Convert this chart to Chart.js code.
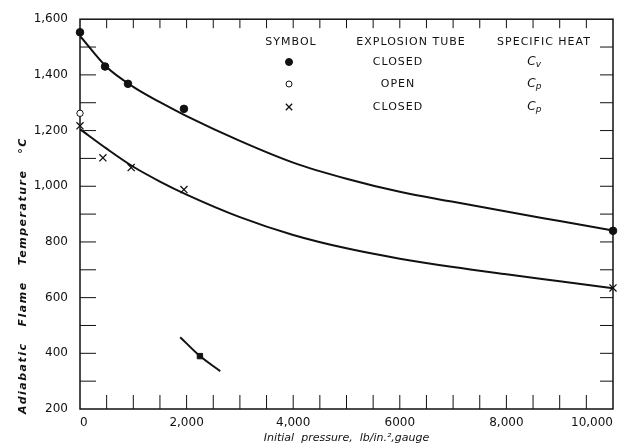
<!DOCTYPE html>
<html>
<head>
<meta charset="utf-8">
<script src="https://cdn.jsdelivr.net/npm/chart.js@4.4.0/dist/chart.umd.min.js"></script>
<style>
  html, body { margin: 0; padding: 0; background: #fff; }
</style>
</head>
<body>
<canvas id="chart-flame" width="625" height="447"></canvas>
<script>
// smooth curves
const curveX = [0, 500, 1000, 1500, 2000, 3000, 4000, 5000, 6000, 7000, 8000, 9000, 10000];
const upperCurve = [1540, 1428, 1357, 1302, 1252, 1163, 1085, 1027, 980, 944, 909, 875, 841];
const lowerCurve = [1205, 1135, 1070, 1017, 970, 889, 825, 777, 740, 710, 684, 659, 634];

// measured points
const closedCvX = [0, 470, 900, 1950, 10000];
const closedCvY = [1553, 1430, 1368, 1278, 840];
const openCpX = [0];
const openCpY = [1262];
const closedCpX = [0, 430, 960, 1950, 10000];
const closedCpY = [1217, 1102, 1067, 988, 635];

// lone square point with its short curve
const squareX = [2250];
const squareY = [390];
const squareLineX = [1880, 2250, 2630];
const squareLineY = [458, 390, 336];

const xTickLabels = ["0", "2,000", "4,000", "6000", "8,000", "10,000"];
const yTickLabels = ["200", "400", "600", "800", "1,000", "1,200", "1,400", "1,600"];

const legendHead = ["SYMBOL", "EXPLOSION TUBE", "SPECIFIC HEAT"];
const legendTube = ["CLOSED", "OPEN", "CLOSED"];
const legendHeatSub = ["v", "p", "p"];

const ink = "#111";
const family = '"DejaVu Sans", sans-serif';

function pts(xs, ys) {
  return xs.map(function (x, i) {
    return { x: x, y: ys[i] };
  });
}

// frame with inward ticks on all four sides
const frame = {
  id: "frame",
  beforeDatasetsDraw(chart) {
    const ctx = chart.ctx;
    const a = chart.chartArea;
    const x = chart.scales.x;
    const y = chart.scales.y;
    ctx.save();
    ctx.strokeStyle = ink;
    ctx.lineWidth = 1.5;
    ctx.strokeRect(a.left, a.top, a.right - a.left, a.bottom - a.top);
    ctx.lineWidth = 1;
    ctx.beginPath();
    for (let v = 500; v < 10000; v += 500) {
      const px = x.getPixelForValue(v);
      ctx.moveTo(px, a.bottom);
      ctx.lineTo(px, a.bottom - 14);
      ctx.moveTo(px, a.top);
      ctx.lineTo(px, a.top + 9);
    }
    for (let v = 300; v < 1600; v += 100) {
      const py = y.getPixelForValue(v);
      ctx.moveTo(a.left, py);
      ctx.lineTo(a.left + 16, py);
      ctx.moveTo(a.right, py);
      ctx.lineTo(a.right - 13, py);
    }
    ctx.stroke();
    ctx.restore();
  },
};

// y title (letter spaced) and the symbol table
const extras = {
  id: "extras",
  afterDraw(chart) {
    const ctx = chart.ctx;
    ctx.save();
    ctx.fillStyle = ink;
    ctx.strokeStyle = ink;

    ctx.save();
    ctx.translate(23, 414);
    ctx.rotate(-Math.PI / 2);
    ctx.font = "italic bold 11px " + family;
    ctx.letterSpacing = "1.5px";
    ctx.textAlign = "left";
    ctx.textBaseline = "middle";
    ctx.fillText("Adiabatic   Flame   Temperature   °C", 0, 0);
    ctx.restore();

    ctx.font = "11px " + family;
    ctx.letterSpacing = "1px";
    ctx.textAlign = "center";
    ctx.textBaseline = "middle";
    const heads = [291, 411, 544];
    heads.forEach(function (cx, i) {
      ctx.fillText(legendHead[i], cx, 42);
    });

    const rows = [62, 84, 107];
    const marks = [
      { pointStyle: "circle", radius: 3.5, borderWidth: 1, fill: ink },
      { pointStyle: "circle", radius: 3, borderWidth: 1, fill: "#fff" },
      { pointStyle: "crossRot", radius: 4.5, borderWidth: 1.3, fill: ink },
    ];
    rows.forEach(function (ry, i) {
      ctx.fillStyle = marks[i].fill;
      ctx.lineWidth = marks[i].borderWidth;
      Chart.helpers.drawPoint(ctx, marks[i], 289, ry);
      ctx.fillStyle = ink;
      ctx.font = "11px " + family;
      ctx.fillText(legendTube[i], 398, ry);
      ctx.font = "italic 12px " + family;
      ctx.fillText("C", 532, ry);
      ctx.font = "italic 9px " + family;
      ctx.fillText(legendHeatSub[i], 539, ry + 3);
    });
    ctx.restore();
  },
};

const tickFont = { family: "DejaVu Sans", size: 12 };

new Chart(document.getElementById("chart-flame").getContext("2d"), {
  type: "scatter",
  data: {
    datasets: [
      {
        label: "closed Cv",
        data: pts(closedCvX, closedCvY),
        pointStyle: "circle",
        pointRadius: 3.8,
        pointBackgroundColor: ink,
        pointBorderColor: ink,
        clip: false,
      },
      {
        label: "open Cp",
        data: pts(openCpX, openCpY),
        pointStyle: "circle",
        pointRadius: 3.2,
        pointBackgroundColor: "#fff",
        pointBorderColor: ink,
        pointBorderWidth: 1,
        clip: false,
      },
      {
        label: "closed Cp",
        data: pts(closedCpX, closedCpY),
        pointStyle: "crossRot",
        pointRadius: 5,
        pointBorderColor: ink,
        pointBorderWidth: 1.3,
        clip: false,
      },
      {
        label: "square",
        data: pts(squareX, squareY),
        pointStyle: "rect",
        pointRadius: 3.8,
        pointBackgroundColor: ink,
        pointBorderColor: ink,
      },
      {
        label: "upper curve",
        data: pts(curveX, upperCurve),
        showLine: true,
        borderColor: ink,
        borderWidth: 2,
        pointRadius: 0,
        cubicInterpolationMode: "monotone",
      },
      {
        label: "lower curve",
        data: pts(curveX, lowerCurve),
        showLine: true,
        borderColor: ink,
        borderWidth: 2,
        pointRadius: 0,
        cubicInterpolationMode: "monotone",
      },
      {
        label: "square curve",
        data: pts(squareLineX, squareLineY),
        showLine: true,
        borderColor: ink,
        borderWidth: 2,
        pointRadius: 0,
        cubicInterpolationMode: "monotone",
      },
    ],
  },
  options: {
    responsive: false,
    animation: false,
    layout: { padding: { top: 18, right: 12, left: 0, bottom: 0 } },
    plugins: {
      legend: { display: false },
      tooltip: { enabled: false },
    },
    scales: {
      x: {
        type: "linear",
        min: 0,
        max: 10000,
        afterFit(s) {
          s.height = 38;
        },
        grid: { display: false, drawTicks: false },
        border: { display: false },
        ticks: {
          stepSize: 2000,
          align: "inner",
          padding: 7,
          maxRotation: 0,
          autoSkip: false,
          color: ink,
          font: tickFont,
          callback: function (v, i) {
            return xTickLabels[i];
          },
        },
        title: {
          display: true,
          text: "Initial  pressure,  lb/in.²,gauge",
          color: ink,
          font: { family: "DejaVu Sans", size: 11, style: "italic" },
          padding: { top: 0, bottom: 2 },
        },
      },
      y: {
        min: 200,
        max: 1600,
        afterFit(s) {
          s.width = 80;
        },
        grid: { display: false, drawTicks: false },
        border: { display: false },
        ticks: {
          stepSize: 200,
          padding: 12,
          color: ink,
          font: tickFont,
          callback: function (v, i) {
            return yTickLabels[i];
          },
        },
      },
    },
  },
  plugins: [frame, extras],
});
</script>
</body>
</html>
